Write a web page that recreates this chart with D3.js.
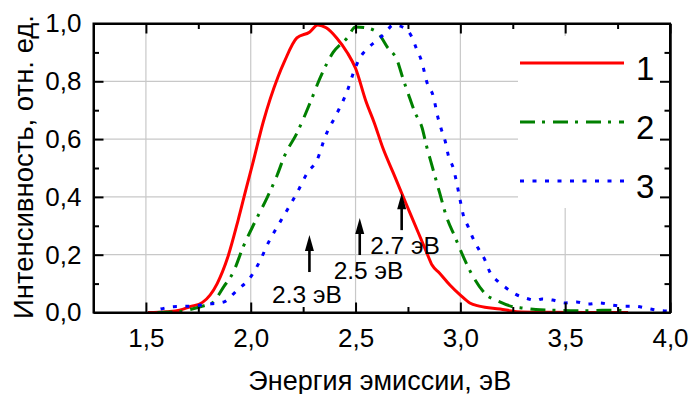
<!DOCTYPE html>
<html>
<head>
<meta charset="utf-8">
<script src="https://cdn.jsdelivr.net/npm/d3@7"></script>
<style>
  html, body { margin: 0; padding: 0; background: #fff; }
  #chart { width: 690px; height: 394px; }
  svg { display: block; font-family: "Liberation Sans", Arial, sans-serif; }
  .axis text { font-size: 26px; fill: #000; }
  .axis path, .axis line { stroke: #000; stroke-width: 2; }
</style>
</head>
<body>
<div id="chart"></div>
<script>
// series 1 (red, solid)
const energy1 = [1.51, 1.60, 1.66, 1.71, 1.77, 1.84, 1.89, 1.94, 1.98, 2.01, 2.06, 2.13, 2.16, 2.22, 2.28, 2.32, 2.36, 2.41, 2.46, 2.50, 2.55, 2.59, 2.63, 2.68, 2.72, 2.76, 2.80, 2.84, 2.865, 2.90, 2.95, 3.00, 3.045, 3.09, 3.19, 3.27, 3.40, 3.60, 3.80];
const intensity1 = [0, 0.003, 0.008, 0.02, 0.035, 0.10, 0.19, 0.32, 0.434, 0.517, 0.66, 0.815, 0.867, 0.95, 0.97, 0.995, 0.985, 0.95, 0.90, 0.845, 0.73, 0.655, 0.57, 0.483, 0.413, 0.344, 0.275, 0.206, 0.164, 0.137, 0.095, 0.06, 0.033, 0.022, 0.012, 0.003, 0.001, 0, 0];

// series 2 (green, dash-dot)
const energy2 = [1.555, 1.66, 1.71, 1.76, 1.82, 1.87, 1.917, 1.964, 2.02, 2.08, 2.126, 2.16, 2.22, 2.283, 2.33, 2.393, 2.46, 2.50, 2.55, 2.607, 2.65, 2.70, 2.726, 2.75, 2.783, 2.817, 2.84, 2.855, 2.902, 2.934, 2.974, 3.021, 3.061, 3.117, 3.188, 3.25, 3.30, 3.36, 3.45, 3.55, 3.65, 3.72, 3.80];
const intensity2 = [0, 0.003, 0.01, 0.02, 0.035, 0.088, 0.14, 0.227, 0.313, 0.40, 0.475, 0.54, 0.62, 0.725, 0.81, 0.90, 0.95, 0.988, 0.985, 0.967, 0.92, 0.87, 0.81, 0.76, 0.693, 0.64, 0.572, 0.533, 0.412, 0.331, 0.262, 0.182, 0.124, 0.066, 0.037, 0.02, 0.015, 0.01, 0.008, 0.006, 0.007, 0.008, 0.006];

// series 3 (blue, dotted)
const energy3 = [1.57, 1.63, 1.71, 1.81, 1.87, 1.936, 2.00, 2.045, 2.083, 2.126, 2.174, 2.22, 2.27, 2.318, 2.355, 2.407, 2.458, 2.498, 2.52, 2.56, 2.607, 2.64, 2.68, 2.736, 2.768, 2.79, 2.815, 2.842, 2.87, 2.894, 2.91, 2.93, 2.942, 2.966, 2.985, 3.00, 3.014, 3.037, 3.06, 3.085, 3.117, 3.14, 3.18, 3.22, 3.267, 3.315, 3.36, 3.39, 3.44, 3.50, 3.555, 3.607, 3.664, 3.72, 3.774, 3.83, 3.888, 3.94, 3.99];
const intensity3 = [0.012, 0.02, 0.022, 0.03, 0.036, 0.078, 0.123, 0.18, 0.24, 0.296, 0.355, 0.413, 0.483, 0.53, 0.608, 0.683, 0.762, 0.845, 0.88, 0.915, 0.945, 0.966, 0.995, 0.983, 0.954, 0.914, 0.87, 0.793, 0.75, 0.672, 0.632, 0.586, 0.545, 0.50, 0.44, 0.385, 0.337, 0.297, 0.257, 0.222, 0.182, 0.141, 0.107, 0.084, 0.062, 0.049, 0.042, 0.047, 0.043, 0.033, 0.036, 0.029, 0.033, 0.026, 0.022, 0.022, 0.015, 0.008, 0.005];

const seriesNames = ["1", "2", "3"];

const xTicks = [1.5, 2.0, 2.5, 3.0, 3.5, 4.0];
const xMinorTicks = [1.75, 2.25, 2.75, 3.25, 3.75];
const yTicks = [0, 0.2, 0.4, 0.6, 0.8, 1.0];
const yMinorTicks = [0.1, 0.3, 0.5, 0.7, 0.9];
const xGrid = [1.5, 2.0, 2.5, 3.0, 3.5];
const yGrid = [0.2, 0.4, 0.6, 0.8];

// arrows: energy, tip and tail intensity; label anchor in data space
const arrowLabels = ["2.3 эВ", "2.5 эВ", "2.7 эВ"];
const arrowEnergy = [2.28, 2.52, 2.72];
const arrowTip = [0.268, 0.327, 0.413];
const arrowTail = [0.14, 0.199, 0.285];
const labelEnergy = [2.268, 2.562, 2.736];
const labelIntensity = [0.033, 0.116, 0.202];

const margin = { top: 23.5, right: 20, bottom: 81.5, left: 93.5 };
const width = 690;
const height = 394;
const plotWidth = width - margin.left - margin.right;
const plotHeight = height - margin.top - margin.bottom;

const svg = d3
  .select("#chart")
  .append("svg")
  .attr("width", width)
  .attr("height", height)
  .attr("viewBox", `0 0 ${width} ${height}`);

const g = svg
  .append("g")
  .attr("transform", `translate(${margin.left},${margin.top})`);

const x = d3.scaleLinear().domain([1.25, 4.0]).range([0, plotWidth]);
const y = d3.scaleLinear().domain([0, 1.0]).range([plotHeight, 0]);

const commaFmt = (d) => d3.format(".1f")(d).replace(".", ",");

// grid
g.append("g")
  .selectAll("line")
  .data(xGrid)
  .join("line")
  .attr("x1", (d) => x(d))
  .attr("x2", (d) => x(d))
  .attr("y1", 0)
  .attr("y2", plotHeight)
  .attr("stroke", "#c8c8c8")
  .attr("stroke-width", 1.2);

g.append("g")
  .selectAll("line")
  .data(yGrid)
  .join("line")
  .attr("x1", 0)
  .attr("x2", plotWidth)
  .attr("y1", (d) => y(d))
  .attr("y2", (d) => y(d))
  .attr("stroke", "#c8c8c8")
  .attr("stroke-width", 1.2);

// legend background hides the grid
const legX = 518 - margin.left;
const legY = 36 - margin.top;
g.append("rect")
  .attr("x", legX)
  .attr("y", legY)
  .attr("width", plotWidth - legX - 1)
  .attr("height", 208 - 36)
  .attr("fill", "#fff");

const series = [
  { name: seriesNames[0], e: energy1, v: intensity1, color: "#ff0000", dash: null },
  { name: seriesNames[1], e: energy2, v: intensity2, color: "#008000", dash: "15,7,3,8" },
  { name: seriesNames[2], e: energy3, v: intensity3, color: "#0000ff", dash: "4,8.5" },
];

const line = d3
  .line()
  .x((d) => x(d[0]))
  .y((d) => y(d[1]))
  .curve(d3.curveMonotoneX);

series.forEach((s) => {
  g.append("path")
    .datum(d3.zip(s.e, s.v))
    .attr("fill", "none")
    .attr("stroke", s.color)
    .attr("stroke-width", 3)
    .attr("stroke-dasharray", s.dash)
    .attr("d", line);
});

// axes, ticks inward on all four sides
g.append("g")
  .attr("class", "axis")
  .attr("transform", `translate(0,${plotHeight})`)
  .call(d3.axisBottom(x).tickValues(xTicks).tickSize(-10).tickSizeOuter(0).tickPadding(16).tickFormat(commaFmt));
g.append("g")
  .attr("class", "axis")
  .attr("transform", `translate(0,${plotHeight})`)
  .call(d3.axisBottom(x).tickValues(xMinorTicks).tickSize(-5.5).tickSizeOuter(0).tickFormat(""));
g.append("g")
  .attr("class", "axis")
  .call(d3.axisTop(x).tickValues(xTicks).tickSize(-10).tickSizeOuter(0).tickFormat(""));
g.append("g")
  .attr("class", "axis")
  .call(d3.axisTop(x).tickValues(xMinorTicks).tickSize(-5.5).tickSizeOuter(0).tickFormat(""));

g.append("g")
  .attr("class", "axis")
  .call(d3.axisLeft(y).tickValues(yTicks).tickSize(-10).tickSizeOuter(0).tickPadding(12).tickFormat(commaFmt));
g.append("g")
  .attr("class", "axis")
  .call(d3.axisLeft(y).tickValues(yMinorTicks).tickSize(-5.5).tickSizeOuter(0).tickFormat(""));
g.append("g")
  .attr("class", "axis")
  .attr("transform", `translate(${plotWidth},0)`)
  .call(d3.axisRight(y).tickValues(yTicks).tickSize(-10).tickSizeOuter(0).tickFormat(""));
g.append("g")
  .attr("class", "axis")
  .attr("transform", `translate(${plotWidth},0)`)
  .call(d3.axisRight(y).tickValues(yMinorTicks).tickSize(-5.5).tickSizeOuter(0).tickFormat(""));

g.append("rect")
  .attr("width", plotWidth)
  .attr("height", plotHeight)
  .attr("fill", "none")
  .attr("stroke", "#000")
  .attr("stroke-width", 2);

// axis titles
g.append("text")
  .attr("x", plotWidth / 2 - 2)
  .attr("y", plotHeight + 77)
  .attr("text-anchor", "middle")
  .attr("font-size", 27)
  .text("Энергия эмиссии, эВ");

g.append("text")
  .attr("x", -plotHeight / 2 + 1)
  .attr("y", -60.5)
  .attr("transform", "rotate(-90)")
  .attr("text-anchor", "middle")
  .attr("font-size", 27.5)
  .text("Интенсивность, отн. ед.");

// arrow annotations
const arrows = arrowLabels.map((t, i) => ({
  text: t,
  e: arrowEnergy[i],
  tip: arrowTip[i],
  tail: arrowTail[i],
  le: labelEnergy[i],
  lv: labelIntensity[i],
}));

const ann = g.append("g").selectAll("g").data(arrows).join("g");
ann.append("line")
  .attr("x1", (d) => x(d.e))
  .attr("x2", (d) => x(d.e))
  .attr("y1", (d) => y(d.tail))
  .attr("y2", (d) => y(d.tip) + 12)
  .attr("stroke", "#000")
  .attr("stroke-width", 2.6);
ann.append("path")
  .attr("d", (d) => {
    const cx = x(d.e);
    const ty = y(d.tip);
    return `M${cx},${ty}L${cx - 4.5},${ty + 16}L${cx + 4.5},${ty + 16}Z`;
  })
  .attr("fill", "#000");
ann.append("text")
  .attr("x", (d) => x(d.le))
  .attr("y", (d) => y(d.lv))
  .attr("text-anchor", "middle")
  .attr("font-size", 24.5)
  .text((d) => d.text);

// legend
const legendRows = [63, 122, 181];
const leg = g.append("g").selectAll("g").data(series).join("g")
  .attr("transform", (d, i) => `translate(${520 - margin.left},${legendRows[i] - margin.top})`);
leg.append("line")
  .attr("x1", 0)
  .attr("x2", 104)
  .attr("stroke", (d) => d.color)
  .attr("stroke-width", 3)
  .attr("stroke-dasharray", (d) => d.dash);
leg.append("text")
  .attr("x", 116)
  .attr("y", 17)
  .attr("font-size", 33)
  .text((d) => d.name);
</script>
</body>
</html>
